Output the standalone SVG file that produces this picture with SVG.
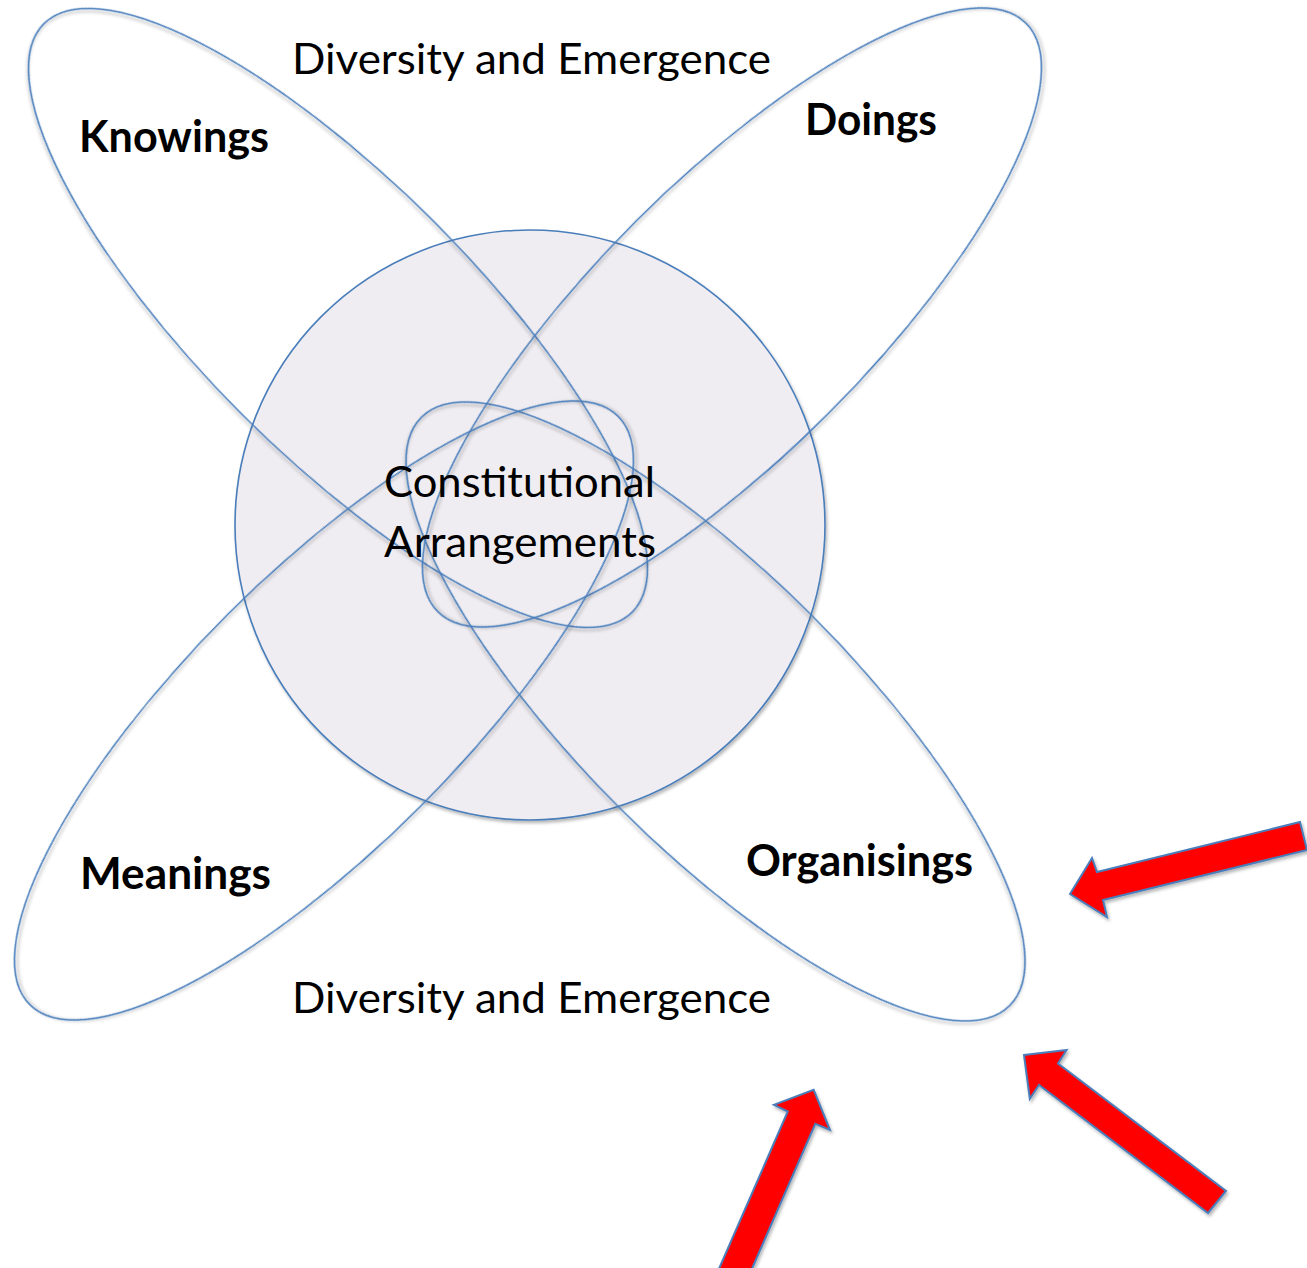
<svg xmlns="http://www.w3.org/2000/svg" width="1307" height="1268" viewBox="0 0 1307 1268">
  <defs>
    <filter id="shadow" x="-10%" y="-10%" width="120%" height="120%">
      <feDropShadow dx="1.5" dy="2.5" stdDeviation="1.8" flood-color="#000" flood-opacity="0.28"/>
    </filter>
    <style>
      .lobe { fill: none; stroke: #4A7EBB; stroke-width: 1.6; }
      .core { fill: #EFEDF1; stroke: #4A7EBB; stroke-width: 1.6; }
      .txt { font-family: Lato, "Liberation Sans", sans-serif; font-size: 43px; fill: #000; }
      .bold { font-weight: bold; }
      .arrow { fill: #FF0000; stroke: #4A7EBB; stroke-width: 2; stroke-linejoin: miter; }
    </style>
  </defs>
  <rect width="1307" height="1268" fill="#FFFFFF"/>

  <g id="constitutional-arrangements">
    <circle class="core" cx="530" cy="525" r="295" filter="url(#shadow)"/>
  </g>

  <g id="knowings">
    <ellipse class="lobe" cx="338" cy="318" rx="416" ry="136" transform="rotate(45 338 318)" filter="url(#shadow)"/>
  </g>
  <g id="organisings">
    <ellipse class="lobe" cx="715.5" cy="711.5" rx="416" ry="136" transform="rotate(45 715.5 711.5)" filter="url(#shadow)"/>
  </g>
  <g id="doings">
    <ellipse class="lobe" cx="732" cy="317.5" rx="416" ry="136" transform="rotate(-45 732 317.5)" filter="url(#shadow)"/>
  </g>
  <g id="meanings">
    <ellipse class="lobe" cx="324" cy="710.5" rx="416" ry="136" transform="rotate(-45 324 710.5)" filter="url(#shadow)"/>
  </g>

  <g id="labels">
    <text class="txt" x="292" y="74" textLength="479" lengthAdjust="spacingAndGlyphs">Diversity and Emergence</text>
    <text class="txt bold" x="79" y="152" textLength="190" lengthAdjust="spacingAndGlyphs">Knowings</text>
    <text class="txt bold" x="805" y="135" textLength="132" lengthAdjust="spacingAndGlyphs">Doings</text>
    <text class="txt" x="384" y="497" textLength="271" lengthAdjust="spacingAndGlyphs">Constitutional</text>
    <text class="txt" x="384" y="557" textLength="272" lengthAdjust="spacingAndGlyphs">Arrangements</text>
    <text class="txt bold" x="80" y="889" textLength="191" lengthAdjust="spacingAndGlyphs">Meanings</text>
    <text class="txt bold" x="746" y="876" textLength="227" lengthAdjust="spacingAndGlyphs">Organisings</text>
    <text class="txt" x="292" y="1013" textLength="479" lengthAdjust="spacingAndGlyphs">Diversity and Emergence</text>
  </g>

  <g id="connectors">
    <polygon class="arrow" filter="url(#shadow)" points="1070,894 1092,858 1097,872 1300,822 1307,850 1103,900 1107,917"/>
    <polygon class="arrow" filter="url(#shadow)" points="813.6,1089.7 830,1130 815.3,1123.9 742.6,1290 709.7,1290 787.8,1111.5 774,1104.8"/>
    <polygon class="arrow" filter="url(#shadow)" points="1024,1055 1066.6,1050 1058,1063.5 1226,1191 1208,1213 1039,1085 1029.8,1098.7"/>
  </g>
</svg>
